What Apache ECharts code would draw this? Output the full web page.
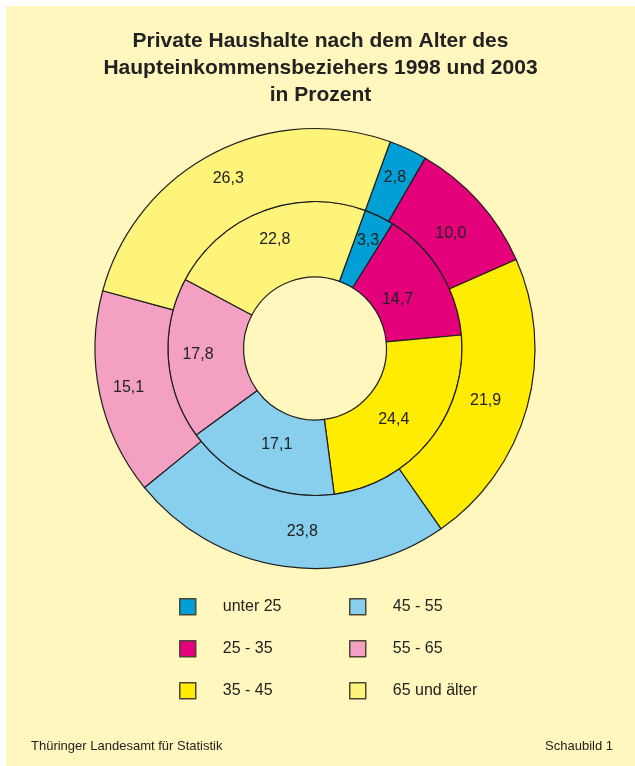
<!DOCTYPE html>
<html>
<head>
<meta charset="utf-8">
<script src="https://cdn.jsdelivr.net/npm/echarts@6/dist/echarts.min.js"></script>
<style>
  html, body { margin: 0; padding: 0; background: #ffffff; }
  #main { position: absolute; left: 6px; top: 6px; width: 629px; height: 760px; }
</style>
</head>
<body>
<div id="main"></div>
<script>
// Altersgruppen und Anteile in Prozent
var groups = ['unter 25', '25 - 35', '35 - 45', '45 - 55', '55 - 65', '65 und älter'];
var values1998 = [3.3, 14.7, 24.4, 17.1, 17.8, 22.8];
var values2003 = [2.8, 10.0, 21.9, 23.8, 15.1, 26.3];
var colors = ['#00a0d6', '#e3007a', '#ffec00', '#88cfee', '#f4a0c2', '#fff47a'];

// kleine Verschiebungen der Beschriftungen wie im Original
var nudge1998 = [[4, -7], [-13, 10], [-9, 1], [6, -7], [-5, -2], [0, -4]];
var nudge2003 = [[1, -2], [-3, 10], [-9, 2], [13, -2], [-4, 0], [-1, -4]];

var FONT = 'Liberation Sans, Arial, sans-serif';

function toData(values) {
  return groups.map(function (g, i) {
    return { name: g, value: values[i] };
  });
}

var myChart = echarts.init(document.getElementById('main'));

function ring(name, radius, values, nudge) {
  return {
    type: 'pie',
    name: name,
    radius: radius,
    center: [309, 342.5],
    startAngle: 70,
    clockwise: true,
    silent: true,
    itemStyle: { borderColor: '#1e1e1e', borderWidth: 1.2 },
    label: {
      show: true,
      position: 'inside',
      color: '#222222',
      fontFamily: FONT,
      fontSize: 16,
      formatter: function (p) { return p.value.toFixed(1).replace('.', ','); }
    },
    labelLayout: function (params) {
      var d = nudge[params.dataIndex];
      return { dx: d[0], dy: d[1] };
    },
    labelLine: { show: false },
    emphasis: { disabled: true },
    data: toData(values)
  };
}

var legendStyle = {
  orient: 'vertical',
  top: 592,
  padding: 0,
  itemWidth: 16,
  itemHeight: 16,
  itemGap: 24.5,
  icon: 'rect',
  selectedMode: false,
  itemStyle: { borderColor: '#4a4636', borderWidth: 1.5 },
  textStyle: {
    color: '#222222',
    fontSize: 16,
    fontFamily: FONT,
    padding: [0, 0, 0, 22]
  }
};

var option = {
  backgroundColor: '#fff7bd',
  animation: false,
  color: colors,
  title: [
    {
      text: 'Private Haushalte nach dem Alter des\nHaupteinkommensbeziehers 1998 und 2003\nin Prozent',
      left: 'center',
      top: 17,
      textStyle: {
        color: '#222222',
        fontSize: 21,
        fontWeight: 'bold',
        lineHeight: 27,
        fontFamily: FONT
      }
    },
    {
      text: 'Thüringer Landesamt für Statistik',
      left: 20,
      top: 729,
      textStyle: { color: '#222222', fontSize: 13, fontWeight: 'normal', fontFamily: FONT }
    },
    {
      text: 'Schaubild 1',
      right: 17,
      top: 729,
      textStyle: { color: '#222222', fontSize: 13, fontWeight: 'normal', fontFamily: FONT }
    }
  ],
  legend: [
    Object.assign({}, legendStyle, { left: 173, data: groups.slice(0, 3) }),
    Object.assign({}, legendStyle, { left: 343, data: groups.slice(3, 6) })
  ],
  series: [
    ring('1998', [71.5, 147], values1998, nudge1998),
    ring('2003', [147, 220], values2003, nudge2003)
  ]
};

myChart.setOption(option);
</script>
</body>
</html>
